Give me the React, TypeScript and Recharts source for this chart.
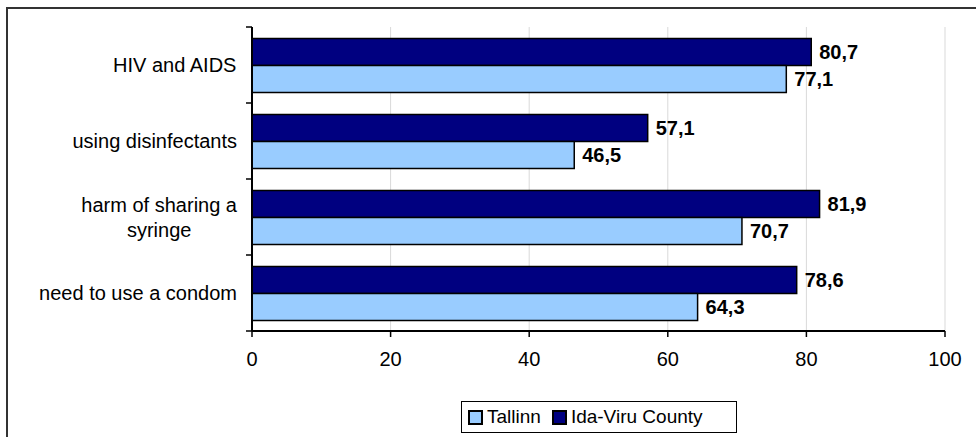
import { Bar, BarChart, CartesianGrid, LabelList, XAxis, YAxis } from 'recharts';

const categories = ['HIV and AIDS', 'using disinfectants', 'harm of sharing a syringe', 'need to use a condom'];
const tallinn = [77.1, 46.5, 70.7, 64.3];
const idaViru = [80.7, 57.1, 81.9, 78.6];
const xTicks = [0, 20, 40, 60, 80, 100];

const data = categories.map((name, i) => ({ name, tallinn: tallinn[i], idaViru: idaViru[i] }));

const FONT = '"Liberation Sans", Arial, sans-serif';
const W = 976;
const H = 437;
const TOP = 27;
const BOTTOM = 106;
const BAND = (H - TOP - BOTTOM) / categories.length;
const LABEL_MAX = 212;
const FONT_SIZE = 20;

let ctx: CanvasRenderingContext2D | null = null;
const measure = (s: string) => {
  if (!ctx) {
    ctx = document.createElement('canvas').getContext('2d');
    if (ctx) ctx.font = `${FONT_SIZE}px "Liberation Sans"`;
  }
  return ctx ? ctx.measureText(s).width : s.length * 9;
};

// wrap long category names the way the original does, lines centred
const wrap = (text: string) => {
  const words = text.split(' ');
  const lines: string[] = [];
  let cur = '';
  words.forEach((w) => {
    const next = cur ? cur + ' ' + w : w;
    if (cur && measure(next) > LABEL_MAX) {
      lines.push(cur);
      cur = w;
    } else {
      cur = next;
    }
  });
  if (cur) lines.push(cur);
  return lines;
};

const CategoryTick = (props: any) => {
  const { x, y, payload, index } = props;
  const lines = wrap(String(payload.value));
  const widest = Math.max(...lines.map(measure));
  const cx = x - widest / 2;
  const lh = 25;
  const axisX = x + 15;
  const first = y + 7 - ((lines.length - 1) * lh) / 2;
  return (
    <g>
      <line x1={axisX - 6} x2={axisX} y1={y - BAND / 2} y2={y - BAND / 2} stroke="#000" strokeWidth={1.5} />
      {index === categories.length - 1 && (
        <line x1={axisX - 6} x2={axisX} y1={y + BAND / 2} y2={y + BAND / 2} stroke="#000" strokeWidth={1.5} />
      )}
      {lines.map((l, i) => (
        <text key={i} x={cx} y={first + i * lh} textAnchor="middle" fill="#000" fontSize={FONT_SIZE} fontFamily={FONT}>
          {l}
        </text>
      ))}
    </g>
  );
};

const fmt = (v: any) => Number(v).toFixed(1).replace('.', ',');

const LegendBox = () => (
  <div
    style={{
      position: 'absolute',
      left: 461,
      top: 401,
      width: 276,
      height: 32,
      boxSizing: 'border-box',
      border: '1px solid #000',
      background: '#fff',
      display: 'flex',
      alignItems: 'center',
      fontFamily: FONT,
      fontSize: 19,
      color: '#000',
      paddingLeft: 6,
    }}
  >
    <span style={{ width: 15, height: 15, boxSizing: 'border-box', border: '2px solid #000', background: '#99CCFF', display: 'inline-block' }} />
    <span style={{ marginLeft: 4, marginRight: 11 }}>Tallinn</span>
    <span style={{ width: 15, height: 15, boxSizing: 'border-box', border: '2px solid #000', background: '#000080', display: 'inline-block' }} />
    <span style={{ marginLeft: 4 }}>Ida-Viru County</span>
  </div>
);

export default function App() {
  return (
    <div style={{ position: 'fixed', left: 0, top: 0, width: W, height: H, background: '#fff', overflow: 'hidden' }}>
      <div style={{ position: 'absolute', left: 6, top: 7, width: W, height: H, borderLeft: '2px solid #333', borderTop: '2px solid #333' }} />
      <div style={{ position: 'absolute', left: 0, top: 0 }}>
        <BarChart
          width={W}
          height={H}
          data={data}
          layout="vertical"
          margin={{ top: TOP, right: 31, left: 0, bottom: 66 }}
          barCategoryGap="15%"
          barGap={0}
        >
          <CartesianGrid horizontal={false} vertical stroke="#d9d9d9" strokeWidth={1} />
          <XAxis
            type="number"
            domain={[0, 100]}
            ticks={xTicks}
            height={40}
            tickSize={6}
            tickMargin={15}
            axisLine={{ stroke: '#000', strokeWidth: 2 }}
            tickLine={{ stroke: '#000', strokeWidth: 1.5 }}
            tick={{ fill: '#000', fontSize: FONT_SIZE, fontFamily: FONT }}
          />
          <XAxis
            xAxisId="top"
            orientation="top"
            type="number"
            domain={[0, 100]}
            height={0}
            tick={false}
            tickLine={false}
            axisLine={{ stroke: '#999', strokeWidth: 2 }}
          />
          <YAxis
            type="category"
            dataKey="name"
            width={252}
            tickSize={6}
            tickMargin={9}
            tickLine={false}
            axisLine={{ stroke: '#000', strokeWidth: 2 }}
            tick={<CategoryTick />}
            interval={0}
          />
          <YAxis
            yAxisId="right"
            orientation="right"
            type="category"
            dataKey="name"
            width={0}
            tick={false}
            tickLine={false}
            axisLine={{ stroke: '#999', strokeWidth: 2.5 }}
          />
          <Bar dataKey="idaViru" name="Ida-Viru County" fill="#000080" stroke="#000" strokeWidth={1.5} isAnimationActive={false}>
            <LabelList dataKey="idaViru" position="right" offset={8} formatter={fmt} fill="#000" fontSize={FONT_SIZE} fontWeight="bold" fontFamily={FONT} />
          </Bar>
          <Bar dataKey="tallinn" name="Tallinn" fill="#99CCFF" stroke="#000" strokeWidth={1.5} isAnimationActive={false}>
            <LabelList dataKey="tallinn" position="right" offset={8} formatter={fmt} fill="#000" fontSize={FONT_SIZE} fontWeight="bold" fontFamily={FONT} />
          </Bar>
        </BarChart>
      </div>
      <LegendBox />
    </div>
  );
}
